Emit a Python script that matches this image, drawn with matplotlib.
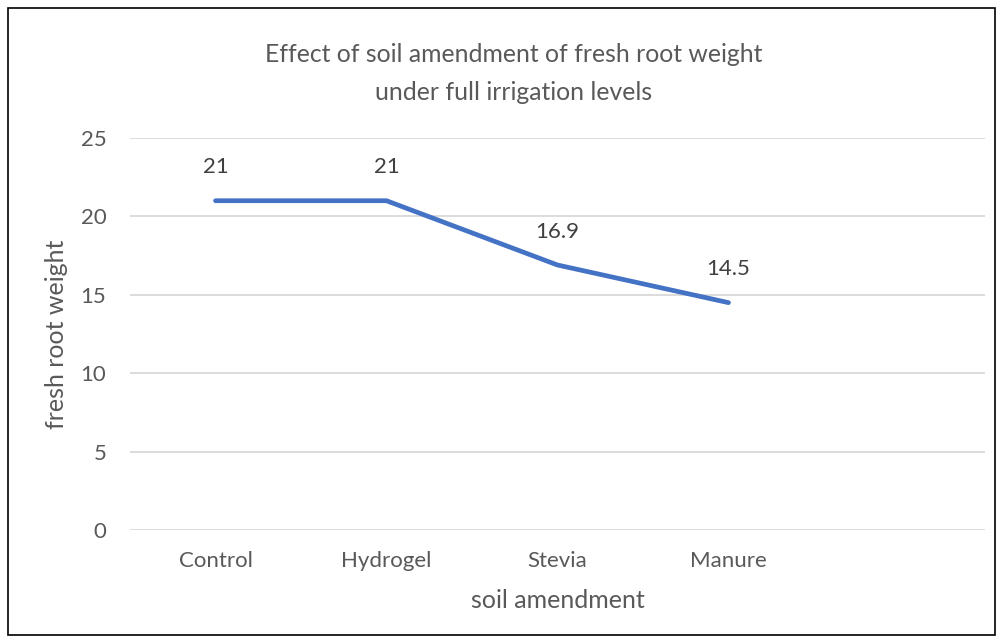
import matplotlib
matplotlib.use("Agg")
import matplotlib.pyplot as plt
from matplotlib.patches import Rectangle

categories = ["Control", "Hydrogel", "Stevia", "Manure", ""]
values = [21, 21, 16.9, 14.5]
labels = ["21", "21", "16.9", "14.5"]
yticks = [0, 5, 10, 15, 20, 25]

plt.rcParams['font.family'] = ['Lato', 'DejaVu Sans']
text_c = '#595959'

fig = plt.figure(figsize=(10.02, 6.42), dpi=100)
ax = fig.add_axes([130/1002, 1-530/642, 855/1002, (530-138)/642])

x = list(range(len(values)))
ax.plot(x, values, color='#4472C4', linewidth=3.4, solid_capstyle='round', solid_joinstyle='round')
for xi, v, lab in zip(x, values, labels):
    ax.annotate(lab, (xi, v), xytext=(0, 24), textcoords='offset points',
                ha='center', va='center', fontsize=16, color='#404040')

ax.set_xlim(-0.5, len(categories) - 0.5)
ax.set_ylim(0, 25)
ax.set_yticks(yticks)
ax.set_xticks(range(len(categories)))
ax.set_xticklabels(categories)
ax.tick_params(axis='both', length=0, labelsize=16, labelcolor=text_c)
ax.tick_params(axis='x', pad=15)
ax.tick_params(axis='y', pad=17)
ax.grid(axis='y', color='#d9d9d9', linewidth=1.3)
ax.set_axisbelow(True)
for s in ax.spines.values():
    s.set_visible(False)

ax.set_xlabel('soil amendment', fontsize=18, color=text_c, labelpad=13)
ax.set_ylabel('fresh root weight', fontsize=18, color=text_c, labelpad=9)
fig.text(514/1002, 1-55/642, 'Effect of soil amendment of fresh root weight',
         ha='center', va='center', fontsize=17.8, color=text_c)
fig.text(514/1002, 1-92/642, 'under full irrigation levels',
         ha='center', va='center', fontsize=17.8, color=text_c)

fig.patches.append(Rectangle((8/1002, 1-635/642), (995-8)/1002, (635-8)/642,
                             transform=fig.transFigure, fill=False,
                             edgecolor='black', linewidth=1.2))

fig.savefig('out.png', dpi=100)
